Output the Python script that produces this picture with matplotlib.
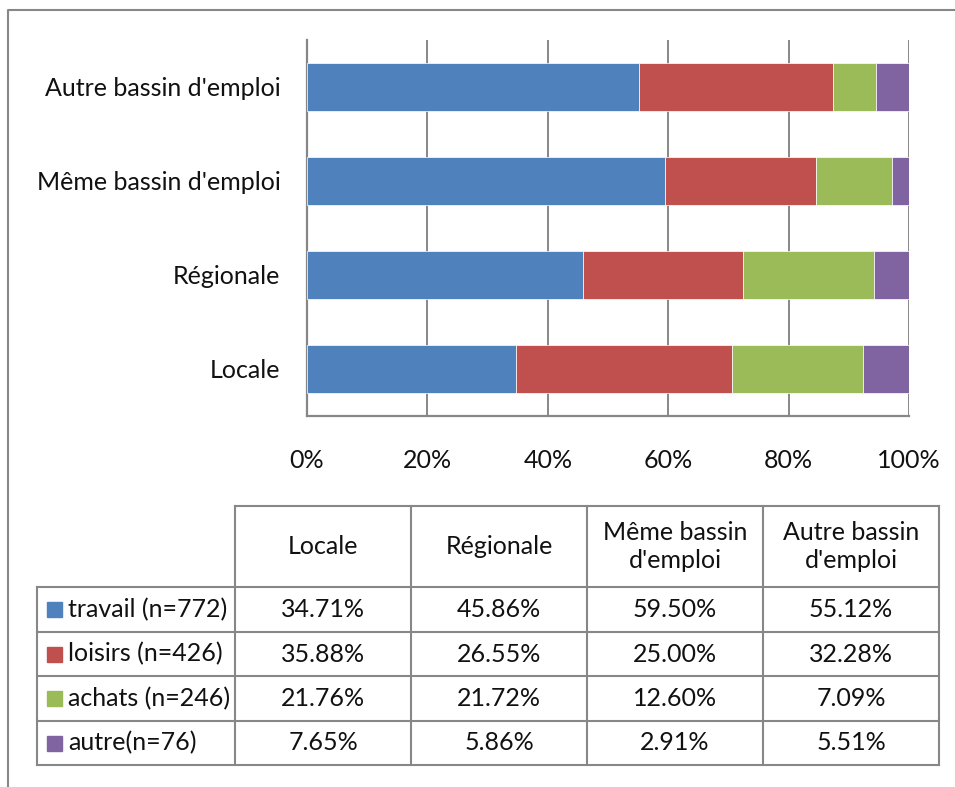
import numpy as np
import matplotlib
matplotlib.use("Agg")
import matplotlib.pyplot as plt

plt.rcParams['font.family'] = ['Lato', 'DejaVu Sans']

# categories as they appear on the y axis, bottom to top
categories = ["Locale", "Régionale", "Même bassin d'emploi", "Autre bassin d'emploi"]
table_headers = ["Locale", "Régionale", "Même bassin\nd'emploi", "Autre bassin\nd'emploi"]

series = ["travail (n=772)", "loisirs (n=426)", "achats (n=246)", "autre(n=76)"]
colors = ["#4F81BD", "#C0504D", "#9BBB59", "#8064A2"]

travail = [34.71, 45.86, 59.50, 55.12]
loisirs = [35.88, 26.55, 25.00, 32.28]
achats = [21.76, 21.72, 12.60, 7.09]
autre = [7.65, 5.86, 2.91, 5.51]
values = [travail, loisirs, achats, autre]

xticks = [0, 20, 40, 60, 80, 100]

W, H = 955, 787
grey = "#878787"
fs = 18

fig = plt.figure(figsize=(W / 100, H / 100), dpi=100)

# bar chart area (pixel box converted to figure fractions)
px_left, px_right, px_top, px_bottom = 307, 909, 40, 416
ax = fig.add_axes([px_left / W, 1 - px_bottom / H,
                   (px_right - px_left) / W, (px_bottom - px_top) / H])
y = np.arange(len(categories))
left = np.zeros(len(categories))
for vals, col in zip(values, colors):
    ax.barh(y, vals, left=left, height=0.51, color=col,
            edgecolor="#ffffff", linewidth=0.5, zorder=3)
    left += np.array(vals)

ax.set_xlim(0, 100)
ax.set_ylim(-0.5, len(categories) - 0.5)
ax.set_xticks(xticks)
ax.set_xticklabels([f"{t}%" for t in xticks], fontsize=fs)
ax.set_yticks(y)
ax.set_yticklabels(categories, fontsize=fs)
ax.tick_params(axis='x', length=0, pad=24, labelcolor="#111111")
ax.tick_params(axis='y', length=0, pad=19, labelcolor="#111111")
ax.grid(axis='x', color=grey, linewidth=1.4, zorder=0)
for s in ["top", "right"]:
    ax.spines[s].set_visible(False)
for s in ["left", "bottom"]:
    ax.spines[s].set_color(grey)
    ax.spines[s].set_linewidth(1.6)

# overlay in pixel coordinates for the data table and the frame
ov = fig.add_axes([0, 0, 1, 1])
ov.set_xlim(0, W)
ov.set_ylim(H, 0)
ov.axis("off")

# outer frame (left and top edges)
ov.plot([8, 8, W], [H, 10, 10], color=grey, linewidth=1.5)

col_x = [37, 235, 411, 587, 763, 939]
row_y = [506, 587, 632, 676, 721, 765]
lw = 1.5

# horizontal lines
ov.plot([col_x[1], col_x[-1]], [row_y[0], row_y[0]], color=grey, linewidth=lw)
for ry in row_y[1:]:
    ov.plot([col_x[0], col_x[-1]], [ry, ry], color=grey, linewidth=lw)
# vertical lines
ov.plot([col_x[0], col_x[0]], [row_y[1], row_y[-1]], color=grey, linewidth=lw)
for cx in col_x[1:]:
    ov.plot([cx, cx], [row_y[0], row_y[-1]], color=grey, linewidth=lw)

# header row
for j, head in enumerate(table_headers):
    cx = (col_x[j + 1] + col_x[j + 2]) / 2
    cy = (row_y[0] + row_y[1]) / 2
    ov.text(cx, cy, head, ha="center", va="center", fontsize=fs,
            linespacing=1.3, color="#111111")

# data rows with legend keys
for i, (name, vals, col) in enumerate(zip(series, values, colors)):
    cy = (row_y[i + 1] + row_y[i + 2]) / 2
    ov.add_patch(plt.Rectangle((47, cy - 7.5), 15, 15, color=col))
    ov.text(68, cy, name, ha="left", va="center", fontsize=fs, color="#111111")
    for j, v in enumerate(vals):
        cx = (col_x[j + 1] + col_x[j + 2]) / 2
        ov.text(cx, cy, f"{v:.2f}%", ha="center", va="center", fontsize=fs,
                color="#111111")

fig.savefig("out.png", dpi=100)
